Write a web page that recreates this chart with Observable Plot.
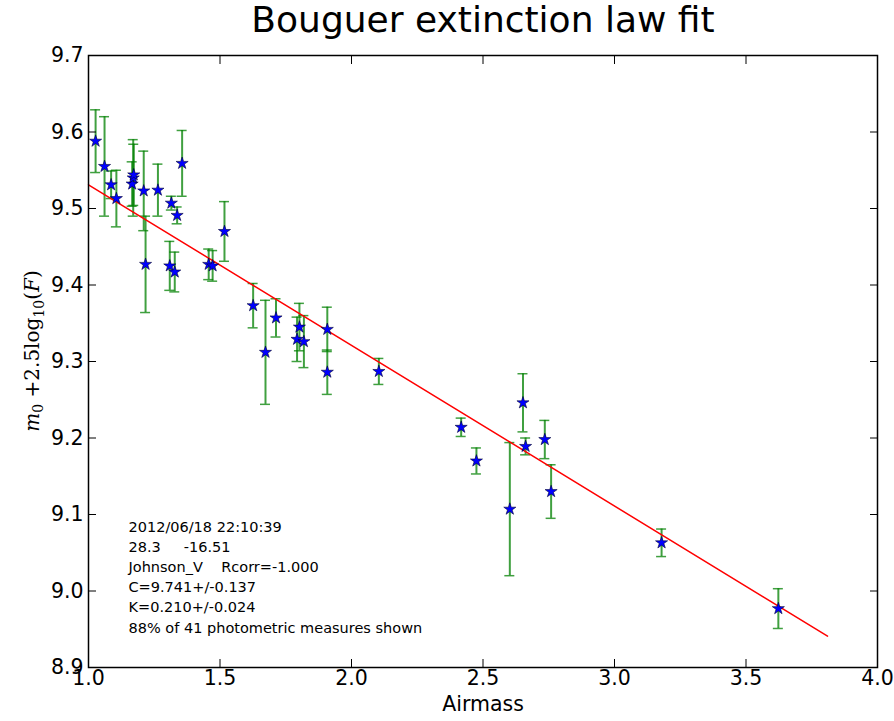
<!DOCTYPE html>
<html><head><meta charset="utf-8">
<script src="https://cdn.jsdelivr.net/npm/d3@7"></script>
<script src="https://cdn.jsdelivr.net/npm/@observablehq/plot@0.6"></script>
<style>body{margin:0;background:#fff} svg text{white-space:pre}</style>
</head><body><div id="chart"></div>
<script>
const title = "Bouguer extinction law fit";
const xLabel = "Airmass";
const xTicks = [1.0, 1.5, 2.0, 2.5, 3.0, 3.5, 4.0];
const yTicks = [8.9, 9.0, 9.1, 9.2, 9.3, 9.4, 9.5, 9.6, 9.7];
const airmass = [1.027, 1.061, 1.086, 1.106, 1.166, 1.170, 1.172, 1.210, 1.217, 1.264, 1.315, 1.337, 1.356,
  1.309, 1.328, 1.457, 1.472, 1.517, 1.626, 1.673, 1.713, 1.802, 1.793, 1.819, 1.908, 1.908, 2.104,
  2.417, 2.475, 2.602, 2.652, 2.662, 2.735, 2.759, 3.179, 3.623];
const mag = [9.588, 9.555, 9.531, 9.513, 9.532, 9.540, 9.544, 9.523, 9.427, 9.524, 9.507, 9.491, 9.559,
  9.425, 9.417, 9.427, 9.425, 9.470, 9.373, 9.312, 9.357, 9.345, 9.329, 9.326, 9.342, 9.286, 9.287,
  9.214, 9.170, 9.107, 9.246, 9.189, 9.198, 9.130, 9.063, 8.977];
const magErr = [0.041, 0.065, 0.018, 0.037, 0.029, 0.050, 0.040, 0.052, 0.063, 0.034, 0.009, 0.011, 0.043,
  0.032, 0.026, 0.020, 0.020, 0.039, 0.029, 0.068, 0.025, 0.031, 0.029, 0.034, 0.029, 0.029, 0.017,
  0.012, 0.017, 0.087, 0.038, 0.011, 0.025, 0.035, 0.018, 0.026];
const fitAirmass = [1.0, 3.81];
const fitMag = [9.531, 8.941];
const infoLines = [
  "2012/06/18 22:10:39",
  "28.3     -16.51",
  "Johnson_V    Rcorr=-1.000",
  "C=9.741+/-0.137",
  "K=0.210+/-0.024",
  "88% of 41 photometric measures shown"
];

const points = airmass.map((x, i) => ({x, y: mag[i], lo: mag[i] - magErr[i], hi: mag[i] + magErr[i]}));
const fit = fitAirmass.map((x, i) => ({x, y: fitMag[i]}));
const errColor = "#008000";
const fmt = d3.format(".1f");

const svg = Plot.plot({
  width: 894, height: 721,
  marginLeft: 88, marginRight: 17, marginTop: 55, marginBottom: 54,
  x: {domain: [1, 4]},
  y: {domain: [8.9, 9.7]},
  style: {fontFamily: "DejaVu Sans", background: "white", color: "black"},
  marks: [
    Plot.ruleX(points, {x: "x", y1: "lo", y2: "hi", stroke: errColor, strokeOpacity: 0.75, strokeWidth: 2}),
    Plot.ruleY(points, {y: "lo", x1: "x", x2: "x", insetLeft: -5, insetRight: -5, stroke: errColor, strokeOpacity: 0.75, strokeWidth: 1.5}),
    Plot.ruleY(points, {y: "hi", x1: "x", x2: "x", insetLeft: -5, insetRight: -5, stroke: errColor, strokeOpacity: 0.75, strokeWidth: 1.5}),
    Plot.line(fit, {x: "x", y: "y", stroke: "red", strokeWidth: 1.5}),
    Plot.dot(points, {x: "x", y: "y", symbol: "star", r: 3.8, fill: "blue", stroke: "#000033", strokeWidth: 0.6}),
    Plot.frame({stroke: "black", strokeWidth: 1.5}),
    Plot.axisX(xTicks, {anchor: "bottom", tickSize: -8, fill: "none", label: null, stroke: "black"}),
    Plot.axisX(xTicks, {anchor: "top", tickSize: -8, fill: "none", label: null, stroke: "black"}),
    Plot.axisY(yTicks, {anchor: "left", tickSize: -8, fill: "none", label: null, stroke: "black"}),
    Plot.axisY(yTicks, {anchor: "right", tickSize: -8, fill: "none", label: null, stroke: "black"}),
    Plot.axisX(xTicks, {anchor: "bottom", tickSize: 0, tickPadding: 3, tickFormat: fmt, fontSize: 20.5, label: null}),
    Plot.axisY(yTicks, {anchor: "left", tickSize: 0, tickPadding: 5, tickFormat: fmt, fontSize: 20.5, label: null}),
    Plot.text([title], {frameAnchor: "top", dy: -49, fontSize: 36, text: d => d}),
    Plot.text([xLabel], {frameAnchor: "bottom", dy: 43, fontSize: 20.5, text: d => d}),
    Plot.text([infoLines.join("\n")], {frameAnchor: "bottom-left", dx: 40, dy: -35, lineAnchor: "bottom", lineHeight: 1.39, fontSize: 14.5, textAnchor: "start", text: d => d})
  ]
});

// y-axis label in math style: m_0 + 2.5 log_10(F)
const lab = d3.select(svg).append("text")
  .attr("transform", "translate(39,351) rotate(-90)")
  .attr("text-anchor", "middle")
  .attr("font-family", "DejaVu Serif")
  .attr("font-size", 20)
  .attr("fill", "black");
lab.append("tspan").attr("font-style", "italic").text("m");
lab.append("tspan").attr("font-size", 14).attr("dy", 4).text("0");
lab.append("tspan").attr("dy", -4).text(" +2.5log");
lab.append("tspan").attr("font-size", 14).attr("dy", 5).text("10");
lab.append("tspan").attr("dy", -5).text("(");
lab.append("tspan").attr("font-style", "italic").text("F");
lab.append("tspan").text(")");

document.getElementById("chart").append(svg);
</script>
</body></html>
